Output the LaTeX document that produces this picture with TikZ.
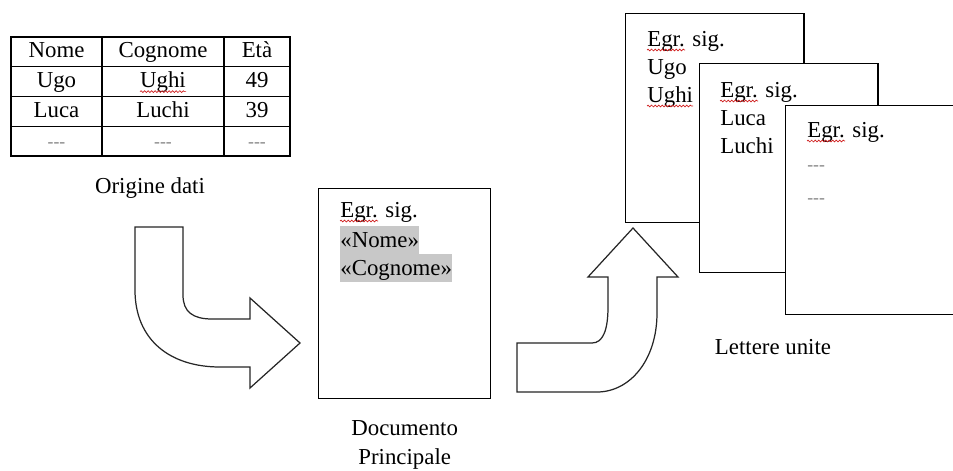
\documentclass[tikz,border=0pt]{standalone}
\usepackage{fontspec}
\setmainfont{Liberation Serif}
\usetikzlibrary{positioning, decorations.pathmorphing}
\definecolor{hilite}{HTML}{C8C8C8}
\definecolor{dashgray}{HTML}{808080}
\definecolor{spellred}{HTML}{D02020}
\newcommand{\dd}{\textcolor{dashgray}{\fontsize{10}{10}\selectfont -{}-{}-}}

\begin{document}
\begin{tikzpicture}[x=0.02cm, y=-0.02cm,
		txt/.style={font=\fontsize{13}{16}\selectfont, inner sep=0pt},
		cell/.style={draw, line width=0.8pt, txt, minimum height=0.595cm, text height=9.4pt, text depth=2.6pt},
		page/.style={draw, line width=0.8pt, fill=white, anchor=north west, minimum width=3.57cm, minimum height=4.18cm, inner sep=0pt},
		line/.style={txt, anchor=base west},
		field/.style={line, fill=hilite, text height=12pt, text depth=4pt},
		spell/.style={draw=spellred, line width=0.4pt, decorate, decoration={snake, amplitude=0.5pt, segment length=2pt}},
		bigarrow/.style={draw=black!85, line width=0.7pt, fill=white, line join=miter}
	]
	\fill[white] (0,0) rectangle (953,470);
	\useasboundingbox (0,0) rectangle (953,470);

	% origine dati
	\foreach \a/\b/\c [count=\i from 0] in {Nome/Cognome/Età, Ugo/Ughi/49, Luca/Luchi/39, \dd/\dd/\dd} {
			\node[cell, minimum width=1.82cm] (nome\i) at (56.5, 51.9+29.75*\i) {\a};
			\node[cell, minimum width=2.44cm] (cogn\i) at (163, 51.9+29.75*\i) {\b};
			\node[cell, minimum width=1.32cm] (eta\i) at (257, 51.9+29.75*\i) {\c};
		}
	\draw[spell] ([shift={(-23,4)}]cogn1.base) -- ++(46,0);
	\node[txt] (orig) at (150,188) {Origine dati};

	% documento principale
	\node[page, minimum width=3.44cm, minimum height=4.2cm] (doc) at (318,188) {};
	\node[line] (dg0) at ([shift={(22,29)}]doc.north west) {Egr. sig.};
	\node[field] (dg1) at ([shift={(22,59)}]doc.north west) {«Nome»};
	\node[field] (dg2) at ([shift={(22,87)}]doc.north west) {«Cognome»};
	\draw[spell] ([shift={(0,4)}]dg0.base west) -- ++(38,0);
	\node[txt, align=center, font=\fontsize{13}{16.5}\selectfont, below=0.42cm of doc] (doclab) {Documento\\Principale};

	% lettere unite
	\node[page] (let1) at (625,13) {};
	\foreach \t [count=\k from 0] in {Egr. sig., Ugo, Ughi}
	\node[line] (ua\k) at ([shift={(22,33+28*\k)}]let1.north west) {\t};
	\draw[spell] ([shift={(0,4)}]ua0.base west) -- ++(38,0);
	\draw[spell] ([shift={(0,4)}]ua2.base west) -- ++(46,0);

	\node[page] (let2) at (699,63) {};
	\foreach \t [count=\k from 0] in {Egr. sig., Luca, Luchi}
	\node[line] (ub\k) at ([shift={(21,34+28*\k)}]let2.north west) {\t};
	\draw[spell] ([shift={(0,4)}]ub0.base west) -- ++(38,0);

	\node[page] (let3) at (785,105) {};
	\foreach \t [count=\k from 0] in {Egr. sig., \dd, \dd}
	\node[line] (uc\k) at ([shift={(22,32+33*\k)}]let3.north west) {\t};
	\draw[spell] ([shift={(0,4)}]uc0.base west) -- ++(38,0);
	\node[txt] (unite) at (773,347) {Lettere unite};

	% frecce
	\draw[bigarrow] (135,227) -- (183,227) -- (183,295)
	.. controls (183,312) and (193,319) .. (212,319) -- (250,319) -- (250,298)
	-- (300,343) -- (250,388) -- (250,367) -- (220,367)
	.. controls (170,367) and (135,340) .. (135,290) -- cycle;
	\draw[bigarrow] (517,343) -- (592,343)
	.. controls (603,343) and (608,330) .. (608,307) -- (608,277) -- (588,277)
	-- (633,228) -- (678,277) -- (657,277) -- (657,313)
	.. controls (657,360) and (630,392) .. (597,392) -- (517,392) -- cycle;
\end{tikzpicture}
\end{document}
